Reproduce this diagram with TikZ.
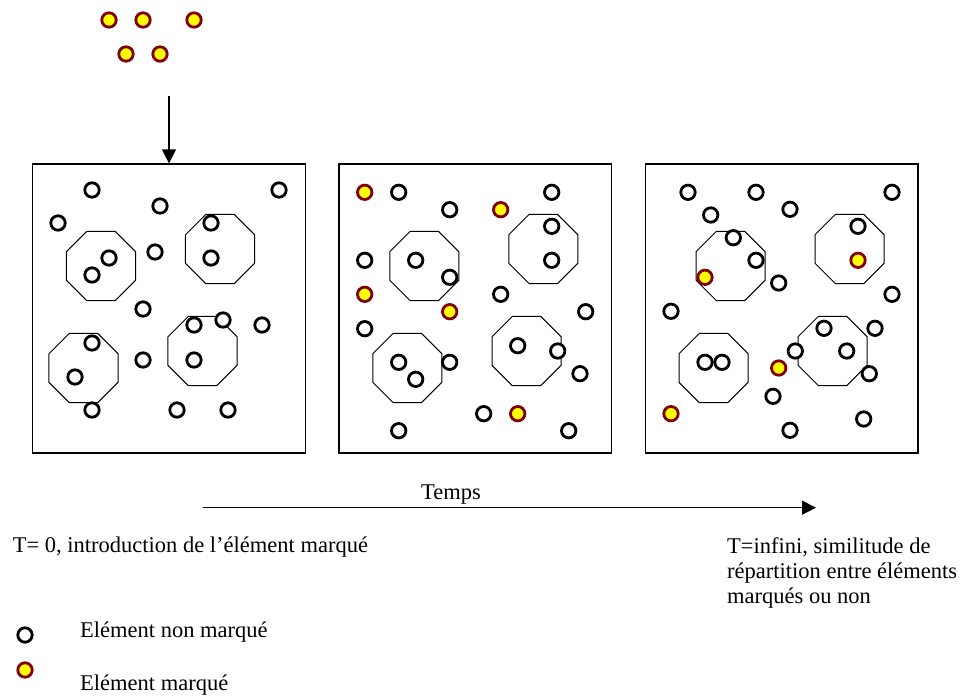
\documentclass[tikz,border=0pt]{standalone}
\usepackage{fontspec}
\setmainfont{Liberation Serif}
\usetikzlibrary{arrows.meta,shapes.geometric}
\definecolor{mkred}{HTML}{800000}
\definecolor{mkyellow}{HTML}{FFFF00}
\tikzset{
  uc/.style={circle,draw=black,fill=white,line width=2.8pt,minimum size=14.4pt,inner sep=0pt},
  mc/.style={circle,draw=mkred,fill=mkyellow,line width=2.8pt,minimum size=14.4pt,inner sep=0pt},
  oct/.style={regular polygon,regular polygon sides=8,draw,line width=1pt,minimum size=74.7pt,inner sep=0pt},
  panel/.style={draw,line width=1.2pt,minimum width=272.5pt,minimum height=289pt,inner sep=0pt},
  arr/.style={line width=1.2pt,-{Triangle[length=14pt,width=14pt]}},
  txt/.style={inner sep=0pt,font=\fontsize{22.5}{25}\selectfont},
}
\begin{document}
\begin{tikzpicture}[x=1pt,y=-1pt]
\path[use as bounding box] (0,0) rectangle (961,696);
% panels
\node[panel] (p1) at (168.9,308.5) {};
\node[panel] (p2) at (475.3,308.5) {};
\node[panel] (p3) at (781.7,308.5) {};
% octagons
\foreach \x/\y [count=\i] in {101/266,220/249,83.5/368,202.5/351,
  424.3/266,543.3/249,407.3/368,526.5/351,
  730.5/266,849.5/249,713.5/368,832.5/351}
  \node[oct] (o\i) at (\x,\y) {};
% unmarked elements
\foreach \x/\y [count=\i] in {92/190,279/190,160/206,58/223,211/223,109/258,155/252,211/258,92/275,143/309,223/320,262/325,194/325,92/343,143/360,194/360,75/377,92/410,177/410,228/410}
  \node[uc] (a\i) at (\x,\y) {};
\foreach \x/\y [count=\i] in {398.7/192.3,551.7/192.3,449.7/209.7,551.7/226.3,364.7/260.3,415.7/260.3,551.7/260.3,449.7/277.3,500.7/294.3,585.7/311.7,364.7/328.7,517.7/345.7,557.7/351,398.7/362.3,449.7/362.3,580/373.7,415.7/379.3,483.7/413.7,398.7/430.7,568.7/430.7}
  \node[uc] (b\i) at (\x,\y) {};
\foreach \x/\y [count=\i] in {688/192.3,756/192.3,892/192.3,710.7/215,790/209.3,858/226.3,733.3/237.7,756/260.3,778.7/283,892/294.3,671/311.3,824/328.3,875/328.3,795.3/351,846.7/351,705/362.3,722/362.3,869.3/373.7,773/396.3,863.7/419,790/430.3}
  \node[uc] (c\i) at (\x,\y) {};
% marked elements
\foreach \x/\y [count=\i] in {364.7/192.3,500.7/209.7,364.7/294.3,449.7/311.7,517.7/413.7}
  \node[mc] (bm\i) at (\x,\y) {};
\foreach \x/\y [count=\i] in {705/277.3,858/260.3,778.7/368,671/413.7}
  \node[mc] (cm\i) at (\x,\y) {};
% introduced marked elements
\foreach \x/\y [count=\i] in {109/20,143/20,194/20,126/54,160/54}
  \node[mc] (t\i) at (\x,\y) {};
% introduction arrow
\coordinate (in0) at (169,96);
\draw[arr] (in0) -- (in0 |- p1.north);
% time arrow
\coordinate (tm0) at (203,507.7);
\coordinate (tm1) at (816,507.7);
\draw[arr] (tm0) -- (tm1);
\node[txt,anchor=base] (temps) at (451,499) {Temps};
% captions
\node[txt,anchor=base west] (cap0) at (12.7,552) {T= 0, introduction de l’élément marqué};
\node[txt,anchor=north west,align=left] (capinf) at (727,537.5) {T=infini, similitude de\\répartition entre éléments\\marqués ou non};
% legend
\node[uc] (lg1) at (25,635) {};
\node[mc] (lg2) at (25,670) {};
\node[txt,anchor=base west] (lt1) at (80,637) {Elément non marqué};
\node[txt,anchor=base west] (lt2) at (80,690) {Elément marqué};
\end{tikzpicture}
\end{document}
